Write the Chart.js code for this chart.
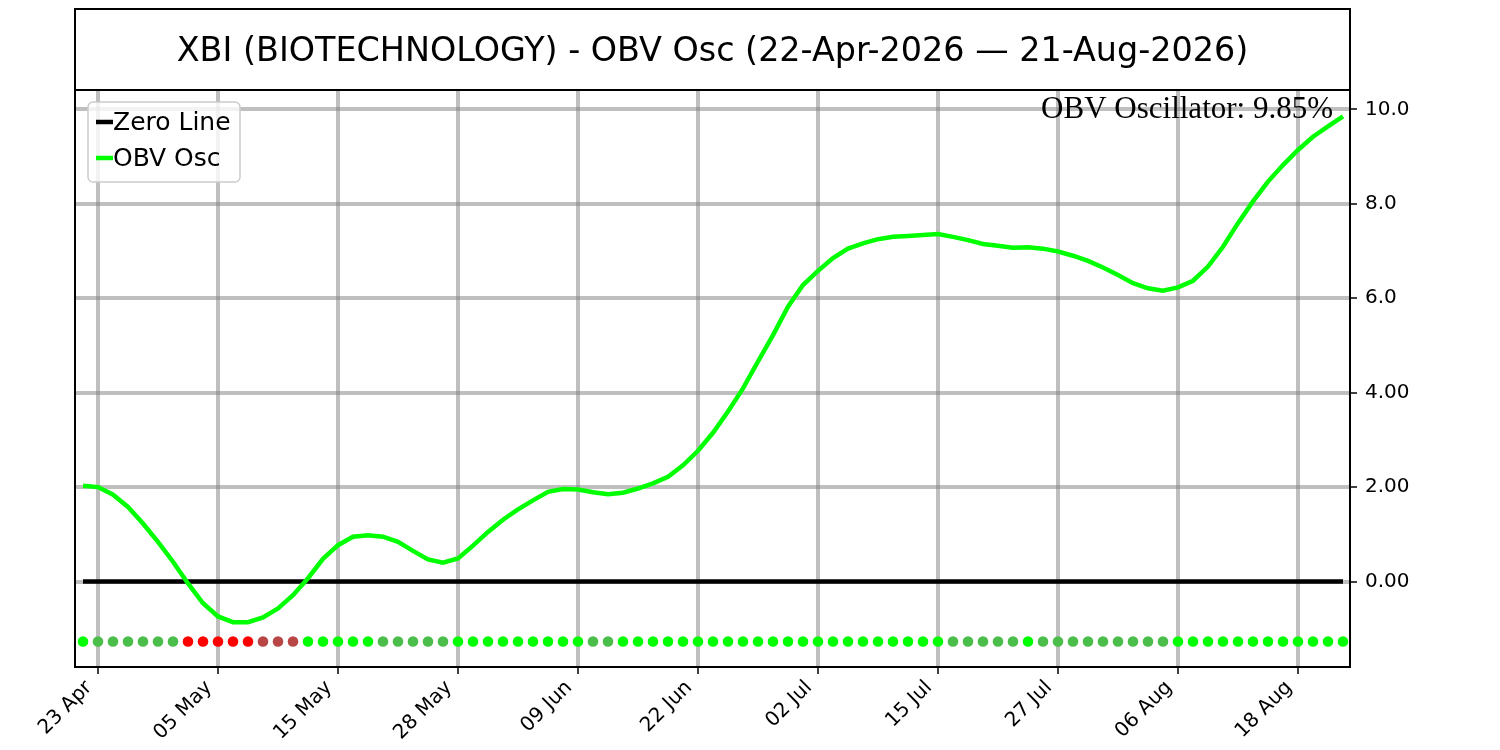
<!DOCTYPE html>
<html lang="en">
<head>
  <meta charset="UTF-8" />
  <title>XBI OBV Oscillator</title>
  <script src="https://cdn.jsdelivr.net/npm/chart.js"></script>
  <style>
    html, body { margin: 0; padding: 0; background: #fff; }
    canvas { display: block; }
  </style>
</head>
<body>
  <canvas id="obvChart" width="1500" height="750"></canvas>

  <script>
    // trading days 22-Apr-2026 .. 21-Aug-2026
    const dates = [
      "22 Apr", "23 Apr", "24 Apr", "27 Apr", "28 Apr", "29 Apr", "30 Apr",
      "01 May", "04 May", "05 May", "06 May", "07 May", "08 May", "11 May", "12 May", "13 May", "14 May", "15 May",
      "18 May", "19 May", "20 May", "21 May", "22 May", "26 May", "27 May", "28 May", "29 May",
      "01 Jun", "02 Jun", "03 Jun", "04 Jun", "05 Jun", "08 Jun", "09 Jun", "10 Jun", "11 Jun", "12 Jun",
      "15 Jun", "16 Jun", "17 Jun", "18 Jun", "22 Jun", "23 Jun", "24 Jun", "25 Jun", "26 Jun", "29 Jun", "30 Jun",
      "01 Jul", "02 Jul", "06 Jul", "07 Jul", "08 Jul", "09 Jul", "10 Jul", "13 Jul", "14 Jul", "15 Jul",
      "16 Jul", "17 Jul", "20 Jul", "21 Jul", "22 Jul", "23 Jul", "24 Jul", "27 Jul", "28 Jul", "29 Jul", "30 Jul", "31 Jul",
      "03 Aug", "04 Aug", "05 Aug", "06 Aug", "07 Aug", "10 Aug", "11 Aug", "12 Aug", "13 Aug", "14 Aug",
      "17 Aug", "18 Aug", "19 Aug", "20 Aug", "21 Aug"
    ];

    const obvOsc = [
      2.03, 2.00, 1.84, 1.58, 1.23, 0.84, 0.42, -0.04, -0.46, -0.74,
      -0.86, -0.86, -0.76, -0.57, -0.29, 0.07, 0.48, 0.77, 0.95, 0.98,
      0.95, 0.84, 0.65, 0.47, 0.40, 0.49, 0.76, 1.05, 1.31, 1.53,
      1.72, 1.90, 1.96, 1.95, 1.89, 1.85, 1.88, 1.97, 2.08, 2.22,
      2.46, 2.77, 3.15, 3.60, 4.09, 4.66, 5.22, 5.82, 6.28, 6.58,
      6.85, 7.05, 7.16, 7.25, 7.30, 7.32, 7.34, 7.36, 7.30, 7.23,
      7.15, 7.11, 7.07, 7.08, 7.05, 6.99, 6.90, 6.79, 6.65, 6.49,
      6.32, 6.21, 6.16, 6.23, 6.37, 6.67, 7.09, 7.59, 8.05, 8.47,
      8.82, 9.14, 9.42, 9.64, 9.85
    ];

    // per-day signal dots: G strong up, M weak up, R strong down, B weak down
    const signal = [
      "G", "M", "M", "M", "M", "M", "M", "R", "R", "R",
      "R", "R", "B", "B", "B", "G", "G", "G", "G", "G",
      "M", "M", "M", "M", "M", "G", "G", "G", "G", "G",
      "G", "G", "G", "G", "M", "M", "G", "G", "G", "G",
      "G", "G", "G", "G", "G", "G", "G", "G", "G", "G",
      "G", "G", "G", "G", "G", "G", "G", "G", "M", "M",
      "M", "M", "M", "G", "M", "M", "M", "M", "M", "M",
      "M", "M", "M", "G", "G", "G", "G", "G", "G", "G",
      "G", "G", "G", "G", "G"
    ];
    const signalColors = { G: "#00ff00", M: "#4bbd4b", R: "#ff0000", B: "#b84646" };
    const dotLevel = -1.27;

    const xTickIndex = [1, 9, 17, 25, 33, 41, 49, 57, 65, 73, 81];
    const yTicks = [0, 2, 4, 6, 8, 10];
    const yTickLabels = ["0.00", "2.00", "4.00", "6.0", "8.0", "10.0"];

    const titleText = "XBI (BIOTECHNOLOGY) - OBV Osc (22-Apr-2026 \u2014 21-Aug-2026)";
    const lastLabel = "OBV Oscillator: " + obvOsc[obvOsc.length - 1].toFixed(2) + "%";
    const legendItems = [
      { text: "Zero Line", color: "#000000" },
      { text: "OBV Osc", color: "#00ff00" }
    ];

    const gridGrey = "rgba(128,128,128,0.5)";

    // frame, title box, value label and legend (matplotlib look)
    const decor = {
      id: "decor",
      afterDraw(chart) {
        const ctx = chart.ctx;
        const a = chart.chartArea;
        ctx.save();
        ctx.strokeStyle = "#000";
        ctx.lineWidth = 2;
        ctx.strokeRect(a.left, a.top, a.right - a.left, a.bottom - a.top);
        ctx.strokeRect(a.left, 9, a.right - a.left, a.top - 9);

        ctx.fillStyle = "#000";
        ctx.font = '33.4px "DejaVu Sans"';
        ctx.textAlign = "center";
        ctx.textBaseline = "alphabetic";
        ctx.fillText(titleText, (a.left + a.right) / 2, 61);

        ctx.font = '31px "Liberation Serif"';
        ctx.textAlign = "right";
        ctx.fillText(lastLabel, a.right - 17, 118);

        // legend box
        const lx = a.left + 13, ly = a.top + 12;
        ctx.beginPath();
        ctx.roundRect(lx, ly, 152, 80, 5);
        ctx.fillStyle = "rgba(255,255,255,0.8)";
        ctx.fill();
        ctx.strokeStyle = "#cccccc";
        ctx.lineWidth = 1.5;
        ctx.stroke();
        ctx.font = '25px "DejaVu Sans"';
        ctx.textAlign = "left";
        ctx.textBaseline = "middle";
        legendItems.forEach((item, i) => {
          const y = ly + 20 + i * 36;
          ctx.strokeStyle = item.color;
          ctx.lineWidth = 4.5;
          ctx.beginPath();
          ctx.moveTo(lx + 8, y);
          ctx.lineTo(lx + 25, y);
          ctx.stroke();
          ctx.fillStyle = "#000";
          ctx.fillText(item.text, lx + 25, y + 1);
        });
        ctx.restore();
      }
    };

    new Chart(document.getElementById("obvChart"), {
      type: "line",
      data: {
        datasets: [
          {
            label: "OBV Osc",
            data: obvOsc.map((v, i) => ({ x: i, y: v })),
            borderColor: "#00ff00",
            borderWidth: 4.5,
            pointRadius: 0,
            tension: 0,
            order: 1
          },
          {
            label: "Zero Line",
            data: dates.map((d, i) => ({ x: i, y: 0 })),
            borderColor: "#000000",
            borderWidth: 4.5,
            pointRadius: 0,
            order: 2
          },
          {
            label: "Signal",
            data: signal.map((s, i) => ({ x: i, y: dotLevel })),
            showLine: false,
            pointRadius: 5.3,
            pointBorderWidth: 0,
            pointBackgroundColor: signal.map(s => signalColors[s]),
            order: 3
          }
        ]
      },
      options: {
        responsive: false,
        animation: false,
        devicePixelRatio: 1,
        layout: { padding: { top: 90, left: 75, right: 0, bottom: 0 } },
        plugins: {
          legend: { display: false },
          title: { display: false },
          tooltip: { enabled: false }
        },
        scales: {
          x: {
            type: "linear",
            min: -0.533,
            max: 84.467,
            afterBuildTicks: axis => { axis.ticks = xTickIndex.map(v => ({ value: v })); },
            afterFit: axis => { axis.height = 83; },
            grid: { color: gridGrey, lineWidth: 4, tickColor: "#000", tickLength: 7, tickWidth: 1.5 },
            border: { display: false },
            ticks: {
              autoSkip: false,
              maxRotation: 45,
              minRotation: 45,
              labelOffset: -9,
              padding: 2,
              color: "#000",
              font: { family: "DejaVu Sans", size: 20 },
              callback: v => dates[v]
            }
          },
          y: {
            position: "right",
            min: -1.81,
            max: 10.41,
            afterBuildTicks: axis => { axis.ticks = yTicks.map(v => ({ value: v })); },
            afterFit: axis => { axis.width = 150; },
            grid: { color: gridGrey, lineWidth: 4, tickColor: "#000", tickLength: 7, tickWidth: 1.5 },
            border: { display: false },
            ticks: {
              padding: 8,
              color: "#000",
              font: { family: "DejaVu Sans", size: 20 },
              callback: v => yTickLabels[yTicks.indexOf(v)]
            }
          }
        }
      },
      plugins: [decor]
    });
  </script>
</body>
</html>
